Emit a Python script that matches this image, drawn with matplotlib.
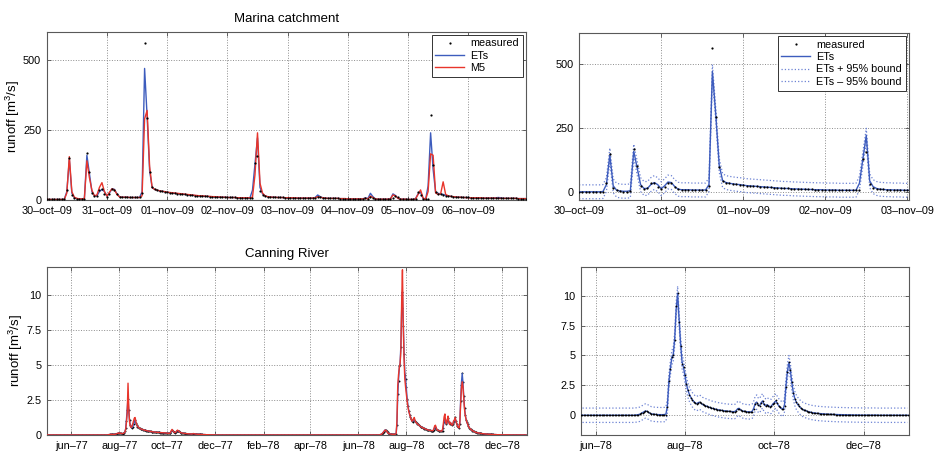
import matplotlib
matplotlib.use('Agg')
import matplotlib.pyplot as plt
import matplotlib.dates as mdates
import matplotlib.ticker as mtick
import pandas as pd

plt.rcParams['font.family'] = ['Liberation Sans', 'DejaVu Sans']
plt.rcParams['mathtext.default'] = 'regular'

# Marina catchment, hourly runoff [m3/s] from 30-oct-09 00:00 (one row per day)
marina_meas = [
    2, 2, 2, 2, 2, 2, 2, 3, 36, 149, 18, 8, 4, 3, 3, 5, 167, 101, 24, 14, 15, 36, 38, 22,
    12, 22, 38, 36, 22, 12, 10, 10, 10, 9, 9, 9, 9, 9, 26, 560, 292, 99, 45, 38, 35, 33, 31, 30,
    28, 26, 25, 24, 23, 22, 21, 20, 19, 18, 17, 16, 15, 15, 14, 13, 13, 12, 12, 11, 11, 10, 10, 10,
    9, 9, 9, 9, 8, 8, 8, 8, 8, 8, 8, 131, 157, 31, 18, 14, 12, 11, 10, 10, 9, 9, 9, 8,
    8, 8, 8, 8, 7, 7, 7, 7, 7, 7, 7, 7, 10, 9, 7, 6, 6, 6, 6, 6, 6, 5, 5, 5,
    4, 4, 4, 4, 4, 4, 3, 6, 4, 10, 6, 3, 3, 2, 2, 2, 2, 2, 8, 14, 10, 4, 2, 2,
    2, 2, 2, 3, 30, 18, 3, 2, 5, 305, 125, 27, 22, 20, 18, 16, 14, 13, 12, 11, 10, 10, 9, 9,
    9, 8, 8, 8, 8, 8, 7, 7, 7, 7, 7, 7, 6, 6, 6, 6, 6, 6, 6, 6, 5, 5, 5, 5,
]
marina_ets = [
    2, 2, 2, 2, 2, 2, 2, 3, 30, 145, 25, 8, 5, 4, 4, 6, 160, 95, 30, 15, 15, 30, 38, 30,
    14, 25, 40, 38, 22, 12, 10, 10, 10, 9, 9, 9, 9, 9, 30, 470, 300, 105, 45, 38, 35, 33, 31, 30,
    28, 26, 25, 24, 23, 22, 21, 20, 19, 18, 17, 16, 15, 15, 14, 13, 13, 12, 12, 11, 11, 10, 10, 10,
    9, 9, 9, 9, 8, 8, 8, 8, 8, 8, 35, 130, 222, 45, 22, 15, 12, 11, 10, 10, 9, 9, 9, 8,
    8, 8, 8, 8, 7, 7, 7, 7, 7, 7, 7, 9, 18, 12, 8, 7, 6, 6, 6, 6, 6, 5, 5, 5,
    4, 4, 4, 4, 4, 4, 4, 8, 5, 24, 12, 4, 3, 3, 3, 3, 3, 4, 22, 16, 6, 3, 3, 3,
    2, 2, 2, 5, 22, 28, 5, 2, 50, 240, 110, 28, 24, 22, 20, 17, 15, 13, 12, 11, 10, 10, 9, 9,
    9, 8, 8, 8, 8, 8, 7, 7, 7, 7, 7, 8, 9, 8, 6, 6, 6, 6, 6, 6, 5, 5, 5, 5,
]
marina_m5 = [
    2, 2, 2, 2, 2, 2, 2, 2, 25, 155, 30, 10, 6, 4, 4, 5, 140, 80, 35, 15, 18, 45, 62, 30,
    14, 28, 40, 36, 20, 11, 10, 10, 10, 9, 9, 9, 9, 9, 15, 290, 320, 120, 45, 38, 35, 33, 31, 30,
    28, 27, 26, 25, 24, 23, 22, 21, 20, 19, 18, 17, 16, 15, 15, 14, 13, 13, 12, 12, 11, 11, 10, 10,
    9, 9, 9, 9, 8, 8, 8, 8, 8, 8, 10, 90, 240, 60, 25, 15, 12, 11, 10, 10, 9, 9, 9, 8,
    8, 8, 8, 8, 7, 7, 7, 7, 7, 7, 7, 8, 12, 10, 8, 7, 6, 6, 6, 6, 6, 5, 5, 5,
    4, 4, 4, 4, 4, 4, 4, 6, 4, 14, 9, 4, 3, 3, 3, 3, 3, 4, 18, 15, 6, 3, 3, 3,
    2, 2, 2, 4, 20, 36, 8, 2, 30, 165, 160, 25, 20, 22, 65, 20, 15, 13, 12, 11, 10, 10, 9, 9,
    8, 8, 8, 8, 8, 8, 7, 7, 7, 7, 7, 7, 6, 6, 6, 6, 6, 6, 6, 6, 5, 5, 5, 5,
]
marina_bound = 27.0

# Canning River, daily runoff [m3/s] from 01-may-77 to 31-dec-78
rec_sep77 = [0.36, 0.35, 0.33, 0.32, 0.3, 0.29, 0.28, 0.27, 0.26, 0.25,
             0.24, 0.23, 0.22, 0.22, 0.21, 0.2, 0.2, 0.19, 0.19, 0.18,
             0.18, 0.17, 0.17, 0.16, 0.16, 0.16, 0.15, 0.15, 0.15, 0.14]
rec_nov77 = [0.07, 0.08, 0.1, 0.09, 0.08, 0.07, 0.06, 0.06, 0.05, 0.05,
             0.05, 0.04, 0.04, 0.04, 0.03, 0.03, 0.03, 0.03, 0.02, 0.02,
             0.02, 0.02, 0.02, 0.01, 0.01, 0.01, 0.01, 0.01, 0.01, 0.01]
jul77 = [0, 0, 0, 0, 0, 0, 0, 0, 0, 0, 0, 0, 0, 0, 0, 0, 0, 0.02, 0.03, 0.04,
         0.05, 0.05, 0.05, 0.04, 0.04, 0.05, 0.06, 0.08, 0.1, 0.12, 0.15]
jun78 = [0.0] * 27 + [0.01, 0.03, 0.05]
rec_nov78 = [0.14, 0.13, 0.12, 0.11, 0.1, 0.09, 0.09, 0.08, 0.08, 0.07,
             0.07, 0.06, 0.06, 0.05, 0.05, 0.05, 0.04, 0.04, 0.04, 0.03,
             0.03, 0.03, 0.03, 0.02, 0.02, 0.02, 0.02, 0.02, 0.01, 0.01]
dec78 = [0.01] * 10 + [0.0] * 21
dry_dec77_may78 = [0.0] * (31 + 31 + 28 + 31 + 30 + 31)

canning_meas = (
    [0.0] * 61 + jul77
    + [0.12, 0.15, 0.12, 0.1, 0.1, 0.12, 0.15, 0.25, 0.5, 1.0, 1.8, 2.55, 1.8, 1.1, 0.7, 0.55,
       0.5, 0.55, 0.8, 1.0, 1.1, 0.85, 0.7, 0.6, 0.55, 0.5, 0.47, 0.44, 0.42, 0.4, 0.38]
    + rec_sep77
    + [0.13, 0.12, 0.12, 0.12, 0.15, 0.25, 0.35, 0.3, 0.22, 0.18, 0.17, 0.2, 0.28, 0.32, 0.3, 0.25,
       0.2, 0.17, 0.15, 0.14, 0.13, 0.12, 0.11, 0.1, 0.1, 0.09, 0.09, 0.08, 0.08, 0.08, 0.07]
    + rec_nov77 + dry_dec77_may78 + jun78
    + [0.08, 0.15, 0.22, 0.3, 0.35, 0.33, 0.25, 0.18, 0.12, 0.1, 0.08, 0.07, 0.06, 0.05, 0.05, 0.05,
       0.05, 0.05, 0.06, 0.7, 2.9, 3.85, 4.9, 5.0, 6.3, 9.1, 10.2, 7.8, 5.8, 4.3, 4.0]
    + [3.4, 2.6, 2.1, 1.7, 1.45, 1.3, 1.15, 1.0, 0.95, 1.05, 1.1, 1.0, 0.9, 0.85, 0.8, 0.75,
       0.7, 0.65, 0.6, 0.57, 0.54, 0.5, 0.48, 0.45, 0.43, 0.41, 0.39, 0.37, 0.35, 0.34, 0.33]
    + [0.32, 0.31, 0.3, 0.3, 0.35, 0.5, 0.55, 0.45, 0.38, 0.34, 0.32, 0.3, 0.29, 0.28, 0.27,
       0.3, 0.5, 0.9, 1.05, 0.85, 0.75, 1.0, 1.2, 0.9, 0.75, 0.85, 0.8, 0.7, 0.75, 0.9]
    + [1.0, 1.25, 1.0, 0.8, 0.65, 0.55, 0.5, 0.8, 2.4, 3.6, 4.45, 3.8, 2.8, 1.9, 1.4, 1.1,
       0.9, 0.75, 0.62, 0.52, 0.45, 0.4, 0.35, 0.31, 0.28, 0.25, 0.22, 0.2, 0.18, 0.16, 0.15]
    + rec_nov78 + dec78
)
canning_ets = (
    [0.0] * 61 + jul77
    + [0.1, 0.13, 0.12, 0.1, 0.1, 0.12, 0.15, 0.22, 0.45, 1.1, 1.9, 2.65, 1.6, 1.0, 0.7, 0.58,
       0.52, 0.58, 0.8, 0.95, 1.05, 0.85, 0.72, 0.62, 0.56, 0.51, 0.47, 0.44, 0.42, 0.4, 0.38]
    + rec_sep77
    + [0.13, 0.12, 0.12, 0.12, 0.16, 0.27, 0.34, 0.3, 0.22, 0.18, 0.17, 0.21, 0.28, 0.31, 0.29, 0.25,
       0.2, 0.17, 0.15, 0.14, 0.13, 0.12, 0.11, 0.1, 0.1, 0.09, 0.09, 0.08, 0.08, 0.08, 0.07]
    + rec_nov77 + dry_dec77_may78 + jun78
    + [0.08, 0.15, 0.22, 0.3, 0.36, 0.33, 0.25, 0.18, 0.12, 0.1, 0.08, 0.07, 0.06, 0.05, 0.05, 0.05,
       0.05, 0.06, 0.1, 0.8, 2.8, 3.9, 4.8, 5.1, 6.4, 8.9, 10.2, 8.0, 6.0, 4.5, 4.0]
    + [3.3, 2.6, 2.1, 1.75, 1.5, 1.3, 1.15, 1.02, 0.97, 1.05, 1.1, 1.0, 0.9, 0.85, 0.8, 0.75,
       0.7, 0.65, 0.6, 0.57, 0.54, 0.51, 0.48, 0.45, 0.43, 0.41, 0.39, 0.37, 0.35, 0.34, 0.33]
    + [0.32, 0.31, 0.3, 0.31, 0.4, 0.55, 0.58, 0.45, 0.38, 0.34, 0.32, 0.3, 0.29, 0.28, 0.28,
       0.35, 0.6, 1.0, 1.1, 0.85, 0.8, 1.05, 1.2, 0.9, 0.78, 0.88, 0.8, 0.72, 0.75, 0.95]
    + [1.05, 1.2, 1.0, 0.8, 0.65, 0.55, 0.5, 0.9, 2.5, 3.7, 4.4, 3.7, 2.7, 1.9, 1.4, 1.1,
       0.9, 0.75, 0.62, 0.52, 0.45, 0.4, 0.35, 0.31, 0.28, 0.25, 0.22, 0.2, 0.18, 0.16, 0.15]
    + rec_nov78 + dec78
)
canning_m5 = (
    [0.0] * 61 + jul77
    + [0.1, 0.15, 0.12, 0.1, 0.1, 0.12, 0.15, 0.2, 0.4, 0.9, 1.6, 3.7, 1.9, 0.9, 0.6, 0.55,
       0.6, 0.8, 1.0, 1.2, 1.25, 0.95, 0.75, 0.62, 0.56, 0.51, 0.47, 0.44, 0.42, 0.4, 0.38]
    + rec_sep77
    + [0.13, 0.12, 0.12, 0.12, 0.18, 0.3, 0.4, 0.32, 0.22, 0.18, 0.17, 0.22, 0.3, 0.35, 0.3, 0.25,
       0.2, 0.17, 0.15, 0.14, 0.13, 0.12, 0.11, 0.1, 0.1, 0.09, 0.09, 0.08, 0.08, 0.08, 0.07]
    + rec_nov77 + dry_dec77_may78 + jun78
    + [0.08, 0.15, 0.22, 0.3, 0.35, 0.33, 0.25, 0.18, 0.12, 0.1, 0.08, 0.07, 0.06, 0.05, 0.05, 0.05,
       0.05, 0.06, 0.1, 1.0, 3.5, 4.3, 4.8, 5.1, 6.0, 9.5, 11.8, 8.0, 5.5, 4.0, 3.4]
    + [2.9, 2.4, 2.0, 1.7, 1.5, 1.3, 1.15, 1.0, 1.0, 1.15, 1.25, 1.05, 0.9, 0.85, 0.8, 0.75,
       0.7, 0.65, 0.6, 0.57, 0.54, 0.51, 0.48, 0.45, 0.43, 0.41, 0.39, 0.37, 0.35, 0.34, 0.33]
    + [0.32, 0.31, 0.3, 0.32, 0.45, 0.65, 0.7, 0.5, 0.38, 0.34, 0.32, 0.3, 0.29, 0.28, 0.28,
       0.4, 0.8, 1.3, 1.5, 0.9, 0.8, 1.1, 1.35, 0.9, 0.75, 0.9, 0.8, 0.7, 0.75, 1.0]
    + [1.05, 1.25, 1.0, 0.8, 0.65, 0.55, 0.5, 0.9, 2.2, 3.3, 3.8, 3.4, 2.6, 1.8, 1.35, 1.1,
       0.9, 0.75, 0.62, 0.52, 0.45, 0.4, 0.35, 0.31, 0.28, 0.25, 0.22, 0.2, 0.18, 0.16, 0.15]
    + rec_nov78 + dec78
)
canning_bound = 0.6

BLUE = '#3d5cbd'
RED = '#e8352b'
BOUND = '#6d83d4'


def date_formatter(fmt):
    return mtick.FuncFormatter(
        lambda x, pos: mdates.num2date(x).strftime(fmt).lower().replace('-', '\u2013'))


def style_axes(ax):
    ax.grid(True, linestyle=':', color='0.55', linewidth=0.7)
    ax.tick_params(direction='in', top=True, right=True, length=3, width=0.6,
                   labelsize=7.8, color='0.3', pad=4)
    for s in ax.spines.values():
        s.set_color('0.35')
        s.set_linewidth(0.8)
    ax.yaxis.set_major_formatter(mtick.FormatStrFormatter('%g'))


def add_legend(ax, loc_box):
    leg = ax.legend(loc='upper right', bbox_to_anchor=loc_box, fontsize=7.8, numpoints=1,
                    fancybox=False, framealpha=1, edgecolor='0.2', handlelength=2.6,
                    labelspacing=0.22, borderpad=0.35, handletextpad=0.6, borderaxespad=0)
    leg.get_frame().set_linewidth(0.7)


def main():
    t_marina = pd.date_range('2009-10-30 00:00', periods=len(marina_meas), freq='h')
    t_canning = pd.date_range('1977-05-01', periods=len(canning_meas), freq='D')
    ets_up_m = [v + marina_bound for v in marina_ets]
    ets_lo_m = [v - marina_bound for v in marina_ets]
    ets_up_c = [v + canning_bound for v in canning_ets]
    ets_lo_c = [v - canning_bound for v in canning_ets]

    fig = plt.figure(figsize=(9.35, 4.55), dpi=100)

    ####################################################################################
    ax1 = fig.add_axes([0.050, 0.5604, 0.5125, 0.3692])
    ax1.plot(t_marina, marina_meas, 'o', color='k', ms=1.6, mew=0, label='measured', zorder=4)
    ax1.plot(t_marina, marina_ets, color=BLUE, lw=1.0, label='ETs', zorder=2)
    ax1.plot(t_marina, marina_m5, color=RED, lw=1.0, label='M5', zorder=3)
    ax1.set_xlim(t_marina[0], t_marina[-1])
    ax1.set_ylim(0, 600)
    ax1.set_yticks([0, 250, 500])
    ax1.xaxis.set_major_locator(mdates.DayLocator())
    ax1.xaxis.set_major_formatter(date_formatter('%d-%b-%y'))
    style_axes(ax1)
    ax1.set_title('Marina catchment', fontsize=9.5, pad=7)
    ax1.set_ylabel('runoff [m$^3$/s]', fontsize=9.5, labelpad=1)
    add_legend(ax1, (0.993, 0.985))

    ####################################################################################
    ax2 = fig.add_axes([0.6193, 0.5604, 0.3529, 0.3671])
    ax2.plot(t_marina, marina_meas, 'o', color='k', ms=1.6, mew=0, label='measured', zorder=4)
    ax2.plot(t_marina, marina_ets, color=BLUE, lw=1.0, label='ETs', zorder=3)
    ax2.plot(t_marina, ets_up_m, ':', color=BOUND, lw=0.9, label='ETs + 95% bound', zorder=2)
    ax2.plot(t_marina, ets_lo_m, ':', color=BOUND, lw=0.9, label='ETs \u2013 95% bound', zorder=2)
    ax2.set_xlim(pd.Timestamp('2009-10-30'), pd.Timestamp('2009-11-03 00:30'))
    ax2.set_ylim(-30, 620)
    ax2.set_yticks([0, 250, 500])
    ax2.xaxis.set_major_locator(mdates.DayLocator())
    ax2.xaxis.set_major_formatter(date_formatter('%d-%b-%y'))
    style_axes(ax2)
    add_legend(ax2, (0.99, 0.983))

    ####################################################################################
    ax3 = fig.add_axes([0.0503, 0.044, 0.5130, 0.3692])
    ax3.plot(t_canning, canning_meas, 'o', color='k', ms=1.4, mew=0, zorder=1)
    ax3.plot(t_canning, canning_ets, color=BLUE, lw=1.0, zorder=2)
    ax3.plot(t_canning, canning_m5, color=RED, lw=1.0, zorder=3)
    ax3.set_xlim(pd.Timestamp('1977-05-01'), pd.Timestamp('1979-01-01'))
    ax3.set_ylim(0, 12)
    ax3.set_yticks([0, 2.5, 5, 7.5, 10])
    ax3.xaxis.set_major_locator(mdates.MonthLocator(bymonth=[2, 4, 6, 8, 10, 12]))
    ax3.xaxis.set_major_formatter(date_formatter('%b-%y'))
    style_axes(ax3)
    ax3.set_title('Canning River', fontsize=9.5, pad=7)
    ax3.set_ylabel('runoff [m$^3$/s]', fontsize=9.5, labelpad=1)

    ####################################################################################
    ax4 = fig.add_axes([0.6214, 0.044, 0.3508, 0.3692])
    ax4.plot(t_canning, canning_meas, 'o', color='k', ms=1.3, mew=0, zorder=4)
    ax4.plot(t_canning, canning_ets, color=BLUE, lw=1.0, zorder=3)
    ax4.plot(t_canning, ets_up_c, ':', color=BOUND, lw=0.9, zorder=2)
    ax4.plot(t_canning, ets_lo_c, ':', color=BOUND, lw=0.9, zorder=2)
    ax4.set_xlim(pd.Timestamp('1978-05-22'), pd.Timestamp('1979-01-01'))
    ax4.set_ylim(-1.65, 12.4)
    ax4.set_yticks([0, 2.5, 5, 7.5, 10])
    ax4.xaxis.set_major_locator(mdates.MonthLocator(bymonth=[2, 4, 6, 8, 10, 12]))
    ax4.xaxis.set_major_formatter(date_formatter('%b-%y'))
    style_axes(ax4)

    plt.savefig('out.png', dpi=100)


if __name__ == "__main__":
    main()
